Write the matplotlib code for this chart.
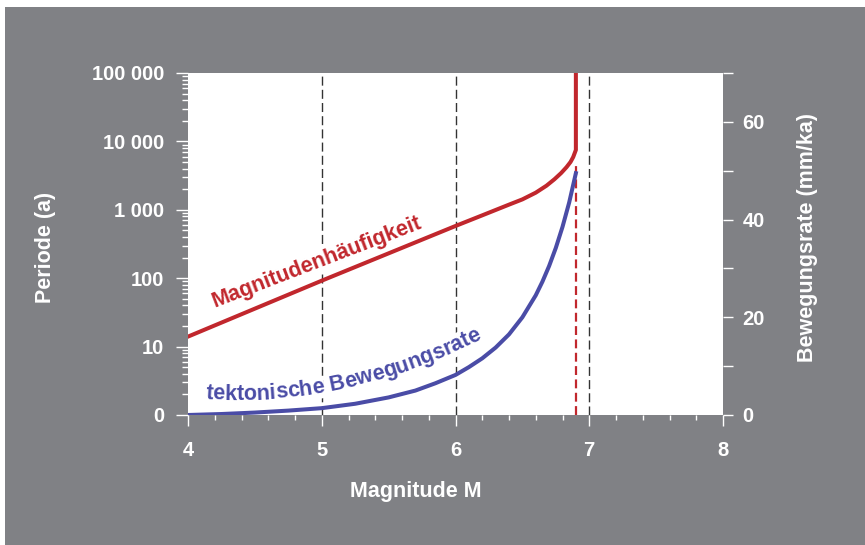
import matplotlib

matplotlib.use("Agg")
import matplotlib.pyplot as plt
import numpy as np
from matplotlib.font_manager import FontProperties
from matplotlib.patches import Rectangle
from matplotlib.ticker import FixedLocator, LogLocator, MultipleLocator

# magnitude frequency: recurrence period (years, log axis) vs magnitude
freq_mag = [4.0, 5.0, 6.0, 6.2, 6.4, 6.5, 6.6, 6.68, 6.74, 6.79, 6.83, 6.86,
            6.88, 6.9, 6.9]
freq_period = [14, 92, 580, 830, 1190, 1420, 1780, 2250, 2800, 3450, 4200,
               5000, 5900, 7500, 100000]

# tectonic slip rate (mm/ka, right axis) vs magnitude
rate_mag = [4.0, 4.25, 4.5, 4.75, 5.0, 5.25, 5.5, 5.7, 5.85, 6.0, 6.1, 6.2,
            6.3, 6.4, 6.5, 6.6, 6.65, 6.7, 6.75, 6.8, 6.85, 6.9]
rate_val = [0.0, 0.2, 0.5, 0.9, 1.4, 2.3, 3.6, 5.0, 6.5, 8.2, 9.8, 11.6,
            13.8, 16.5, 20.0, 24.5, 27.3, 30.5, 34.2, 38.5, 43.5, 49.5]

ref_mags = [5, 6, 7]
max_mag = 6.9
max_mag_top = 4800

period_ticks = [1, 10, 100, 1000, 10000, 100000]
period_labels = ["0", "10", "100", "1 000", "10 000", "100 000"]
rate_ticks = [0, 20, 40, 60]
rate_minor = [10, 30, 50, 70]
mag_ticks = [4, 5, 6, 7, 8]

# baseline of the curved blue label, given as (M, mm/ka)
label_path_mag = [4.13, 5.09, 5.66, 6.11]
label_path_val = [3.3, 5.1, 9.2, 14.5]

GREY = "#808185"
RED = "#c1272d"
BLUE = "#4a4ca6"

plt.rcParams["font.family"] = ["Liberation Sans", "DejaVu Sans"]
plt.rcParams["font.weight"] = "bold"

W, H = 865, 545
fig = plt.figure(figsize=(W / 100, H / 100), dpi=100, facecolor="white")
fig.patches.append(
    Rectangle((5 / W, 0), 1 - 5 / W, 1 - 7 / H, transform=fig.transFigure,
              facecolor=GREY, edgecolor="none", zorder=-10)
)

ax = fig.add_axes([188 / W, 130 / H, 535 / W, 342 / H])
ax.set_facecolor("white")
ax.set_xlim(4, 8)
ax.set_yscale("log")
ax.set_ylim(1, 1e5)
for sp in ax.spines.values():
    sp.set_visible(False)

ax.xaxis.set_major_locator(FixedLocator(mag_ticks))
ax.xaxis.set_minor_locator(MultipleLocator(0.2))
ax.set_yticks(period_ticks)
ax.set_yticklabels(period_labels)
ax.yaxis.set_minor_locator(LogLocator(base=10, subs=range(2, 10)))
ax.yaxis.set_minor_formatter(plt.NullFormatter())

ax.tick_params(axis="y", which="major", length=8.6, width=1, color="white",
               labelcolor="white", labelsize=14.5, pad=8.5)
ax.tick_params(axis="y", which="minor", length=4.3, width=1, color="white")
ax.tick_params(axis="x", which="major", length=8, width=1, color="white",
               labelcolor="white", labelsize=14.5, pad=11)
ax.tick_params(axis="x", which="minor", length=3.6, width=1, color="white")

# reference magnitudes
for m in ref_mags:
    ax.axvline(m, color="#333333", lw=1, dashes=(6.5, 3), zorder=1)
ax.plot([max_mag, max_mag], [1, max_mag_top], color=RED, lw=1.6,
        dashes=(4, 2), zorder=1)

ax.plot(freq_mag, freq_period, color=RED, lw=2.9, zorder=3,
        solid_joinstyle="round")
ax.text(4.98, 146, "Magnitudenhäufigkeit", color=RED, fontsize=15.5,
        rotation=21, rotation_mode="anchor", ha="center", va="baseline",
        zorder=2, bbox=dict(facecolor="white", edgecolor="none", pad=1))

ax2 = ax.twinx()
ax2.set_ylim(0, 70)
for sp in ax2.spines.values():
    sp.set_visible(False)
ax2.set_yticks(rate_ticks)
ax2.yaxis.set_minor_locator(FixedLocator(rate_minor))
ax2.tick_params(axis="y", which="both", length=7, width=1, color="white",
                labelcolor="white", labelsize=14.5, pad=7)

ax2.plot(rate_mag, rate_val, color=BLUE, lw=2.9, zorder=3,
         solid_joinstyle="round")

# curved label following the slip-rate curve, placed letter by letter
label = "tektonische Bewegungsrate"
fp = FontProperties(family="Liberation Sans", weight="bold", size=15.5)
renderer = fig.canvas.get_renderer()


def text_w(s):
    return renderer.get_text_width_height_descent(s, fp, ismath=False)[0]


pts = ax2.transData.transform(np.column_stack([label_path_mag, label_path_val]))
coef = np.polyfit(pts[:, 0], pts[:, 1], 2)
dcoef = np.polyder(coef)
xs = np.linspace(pts[0, 0], pts[-1, 0] + 40, 1000)
ys = np.polyval(coef, xs)
arc = np.concatenate([[0], np.cumsum(np.hypot(np.diff(xs), np.diff(ys)))])
ref = text_w("H")
inv = ax2.transData.inverted()
for i, ch in enumerate(label):
    if ch == " ":
        continue
    left = text_w(label[:i] + "H") - ref
    cw = text_w(ch + "H") - ref
    px = np.interp(left + cw / 2, arc, xs)
    py = np.polyval(coef, px)
    ang = np.degrees(np.arctan(np.polyval(dcoef, px)))
    x, y = inv.transform((px, py))
    ax2.text(x, y, ch, color="white", fontproperties=fp, rotation=ang,
             rotation_mode="anchor", ha="center", va="baseline", zorder=2,
             bbox=dict(facecolor="white", edgecolor="none", pad=0.5))
    ax2.text(x, y, ch, color=BLUE, fontproperties=fp, rotation=ang,
             rotation_mode="anchor", ha="center", va="baseline", zorder=2.1)

fig.text(416 / W, 1 - 497 / H, "Magnitude M", color="white", fontsize=15.5,
         ha="center", va="baseline")
fig.text(45 / W, 1 - 247 / H, "Periode (a)", color="white", fontsize=15.5,
         rotation=90, ha="center", va="center")
fig.text(808 / W, 1 - 238 / H, "Bewegungsrate (mm/ka)", color="white",
         fontsize=15.5, rotation=90, ha="center", va="center")

fig.savefig("out.png", dpi=100)
